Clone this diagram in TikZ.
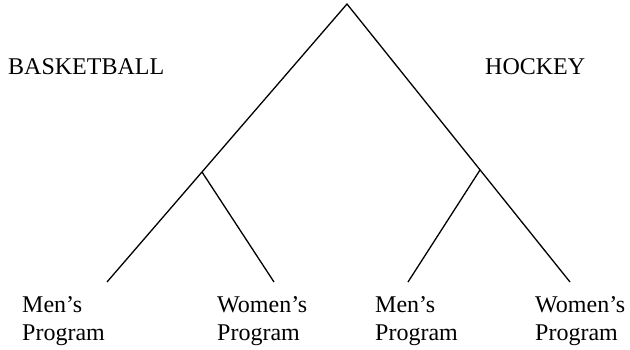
\documentclass[tikz,border=0pt]{standalone}
\usepackage{fontspec}
\setmainfont{Liberation Serif}
\tikzset{
  branch/.style={black, line width=1.3pt},
  leaflabel/.style={anchor=north west, inner sep=0pt, align=left,
    font=\fontsize{24}{28}\selectfont},
  sportlabel/.style={anchor=base west, inner sep=0pt,
    font=\fontsize{24}{28}\selectfont},
}

\begin{document}
\begin{tikzpicture}[x=1pt,y=-1pt]
\useasboundingbox (0,0) rectangle (630,349);
% tree
\coordinate (apex) at (347,4);
\coordinate (bfork) at (202,172);
\coordinate (hfork) at (480,170);
\coordinate (bmen) at (107,282);
\coordinate (bwomen) at (274,282);
\coordinate (hmen) at (408,282);
\coordinate (hwomen) at (570,282);
\draw[branch] (bmen) -- (apex) -- (hwomen);
\draw[branch] (bfork) -- (bwomen);
\draw[branch] (hfork) -- (hmen);
% labels
\node[sportlabel] (basket) at (8,74) {BASKETBALL};
\node[sportlabel] (hockey) at (485,74) {HOCKEY};
\node[leaflabel] (bmenlbl) at (22,296) {Men’s\\Program};
\node[leaflabel] (bwomenlbl) at (217,296) {Women’s\\Program};
\node[leaflabel] (hmenlbl) at (375,296) {Men’s\\Program};
\node[leaflabel] (hwomenlbl) at (535,296) {Women’s\\Program};
\end{tikzpicture}
\end{document}
